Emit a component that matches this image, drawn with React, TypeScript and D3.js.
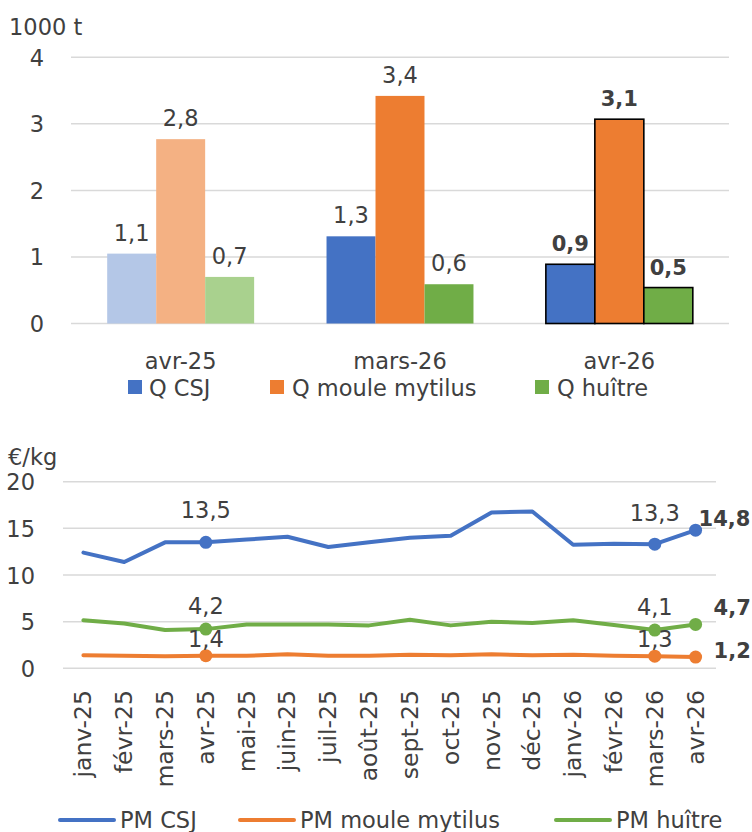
import React from "react";
import * as d3 from "d3";

const barCategories = ["avr-25", "mars-26", "avr-26"];
const barSeries = ["Q CSJ", "Q moule mytilus", "Q huître"];
const qCSJ = [1.05, 1.31, 0.89];
const qMoule = [2.77, 3.42, 3.07];
const qHuitre = [0.7, 0.59, 0.54];
const qLabels = [
  ["1,1", "2,8", "0,7"],
  ["1,3", "3,4", "0,6"],
  ["0,9", "3,1", "0,5"],
];
const barTicks = [0, 1, 2, 3, 4];

const months = [
  "janv-25", "févr-25", "mars-25", "avr-25", "mai-25", "juin-25", "juil-25", "août-25",
  "sept-25", "oct-25", "nov-25", "déc-25", "janv-26", "févr-26", "mars-26", "avr-26",
];
const pmCSJ = [12.4, 11.4, 13.5, 13.5, 13.8, 14.1, 13.0, 13.5, 14.0, 14.2, 16.7, 16.8, 13.25, 13.35, 13.3, 14.8];
const pmMoule = [1.4, 1.35, 1.3, 1.35, 1.35, 1.5, 1.35, 1.35, 1.45, 1.4, 1.5, 1.4, 1.45, 1.35, 1.3, 1.2];
const pmHuitre = [5.15, 4.8, 4.1, 4.2, 4.7, 4.7, 4.7, 4.6, 5.2, 4.6, 5.0, 4.85, 5.15, 4.65, 4.1, 4.7];
const lineSeries = ["PM CSJ", "PM moule mytilus", "PM huître"];
const lineTicks = [0, 5, 10, 15, 20];

const COLORS = ["#4472C4", "#ED7D31", "#70AD47"];
const LIGHT = ["#B4C7E7", "#F4B183", "#A9D18E"];
const TXT = "#404040";
const GRID = "#D9D9D9";
const FONT = "'DejaVu Sans', sans-serif";
const FS = 22.5;
const FSB = 21;

export default function App() {
  // top bar chart
  const yB = d3.scaleLinear().domain([0, 4]).range([323.5, 57.3]);
  const xB = d3.scaleBand().domain(barCategories).range([71, 729]).paddingInner(0.33).paddingOuter(0.165);
  const xSub = d3.scaleBand().domain(barSeries).range([0, xB.bandwidth()]);
  const barVals = [qCSJ, qMoule, qHuitre];

  // bottom line chart
  const yL = d3.scaleLinear().domain([0, 20]).range([668.3, 481.7]);
  const xL = d3.scalePoint().domain(months).range([63, 716]).padding(0.5);
  const lineVals = [pmCSJ, pmMoule, pmHuitre];
  const line = d3.line<number>().x((_, i) => xL(months[i])!).y((d) => yL(d));

  const iA = 3, iM = 14, iL = 15;

  return (
    <svg width={752} height={832} style={{ position: "absolute", left: 0, top: 0, fontFamily: FONT }}>
      <rect width={752} height={832} fill="#fff" />
      {/* ---------- top chart ---------- */}
      <text x={9} y={35} fontSize={FS} fill={TXT}>1000 t</text>
      {barTicks.map((t) => (
        <g key={"bt" + t}>
          <line x1={71} x2={729} y1={yB(t)} y2={yB(t)} stroke={GRID} strokeWidth={1.5} />
          <text x={44} y={yB(t) + 8.5} fontSize={FS} fill={TXT} textAnchor="end">{t}</text>
        </g>
      ))}
      {barCategories.map((c, ci) => (
        <g key={c}>
          {barSeries.map((s, si) => {
            const v = barVals[si][ci];
            const x = xB(c)! + xSub(s)!;
            const w = xSub.bandwidth();
            const fill = ci === 0 ? LIGHT[si] : COLORS[si];
            const last = ci === 2;
            return (
              <g key={s}>
                <rect x={x} y={yB(v)} width={w} height={yB(0) - yB(v)} fill={fill}
                  stroke={last ? "#000" : "none"} strokeWidth={last ? 1.6 : 0} />
                <text x={x + w / 2} y={yB(v) - 13} fontSize={last ? FSB : FS} fill={TXT} textAnchor="middle"
                  fontWeight={last ? 700 : 400}>{qLabels[ci][si]}</text>
              </g>
            );
          })}
          <text x={xB(c)! + xB.bandwidth() / 2} y={369} fontSize={FS} fill={TXT} textAnchor="middle">{c}</text>
        </g>
      ))}
      {[{ x: 128, tx: 149 }, { x: 270, tx: 292 }, { x: 535, tx: 557 }].map((p, i) => (
        <g key={"lg" + i}>
          <rect x={p.x} y={380} width={14} height={14} fill={COLORS[i]} />
          <text x={p.tx} y={396} fontSize={FS} fill={TXT}>{barSeries[i]}</text>
        </g>
      ))}

      {/* ---------- bottom chart ---------- */}
      <text x={8} y={465} fontSize={FS} fill={TXT}>€/kg</text>
      {lineTicks.map((t) => (
        <g key={"lt" + t}>
          <line x1={63} x2={716} y1={yL(t)} y2={yL(t)} stroke={GRID} strokeWidth={1.5} />
          <text x={35} y={yL(t) + 8.5} fontSize={FS} fill={TXT} textAnchor="end">{t}</text>
        </g>
      ))}
      {lineVals.map((vals, si) => (
        <g key={"ls" + si}>
          <path d={line(vals)!} fill="none" stroke={COLORS[si]} strokeWidth={4} strokeLinejoin="round" strokeLinecap="round" />
          {[iA, iM, iL].map((i) => (
            <circle key={i} cx={xL(months[i])!} cy={yL(vals[i])} r={6.5} fill={COLORS[si]} />
          ))}
        </g>
      ))}
      {/* data labels */}
      <text x={xL(months[iA])!} y={yL(pmCSJ[iA]) - 24} fontSize={FS} fill={TXT} textAnchor="middle">13,5</text>
      <text x={xL(months[iA])!} y={yL(pmHuitre[iA]) - 15} fontSize={FS} fill={TXT} textAnchor="middle">4,2</text>
      <text x={xL(months[iA])!} y={yL(pmMoule[iA]) - 9} fontSize={FS} fill={TXT} textAnchor="middle">1,4</text>
      <text x={xL(months[iM])!} y={yL(pmCSJ[iM]) - 23} fontSize={FS} fill={TXT} textAnchor="middle">13,3</text>
      <text x={xL(months[iM])!} y={yL(pmHuitre[iM]) - 15} fontSize={FS} fill={TXT} textAnchor="middle">4,1</text>
      <text x={xL(months[iM])!} y={yL(pmMoule[iM]) - 9} fontSize={FS} fill={TXT} textAnchor="middle">1,3</text>
      <text x={xL(months[iL])! + 3} y={yL(pmCSJ[iL]) - 4} fontSize={FSB} fill={TXT} fontWeight={700}>14,8</text>
      <text x={xL(months[iL])! + 18} y={yL(pmHuitre[iL]) - 9} fontSize={FSB} fill={TXT} fontWeight={700}>4,7</text>
      <text x={xL(months[iL])! + 18} y={yL(pmMoule[iL]) + 1} fontSize={FSB} fill={TXT} fontWeight={700}>1,2</text>
      {months.map((m) => (
        <text key={m} transform={`translate(${xL(m)! + 8},690) rotate(-90)`} fontSize={23.5} fill={TXT} textAnchor="end">{m}</text>
      ))}
      {[{ x: 60, tx: 120 }, { x: 240, tx: 300 }, { x: 556, tx: 616 }].map((p, i) => (
        <g key={"ll" + i}>
          <line x1={p.x} x2={p.x + 54} y1={820} y2={820} stroke={COLORS[i]} strokeWidth={4} strokeLinecap="round" />
          <text x={p.tx} y={828} fontSize={FS} fill={TXT}>{lineSeries[i]}</text>
        </g>
      ))}
    </svg>
  );
}
